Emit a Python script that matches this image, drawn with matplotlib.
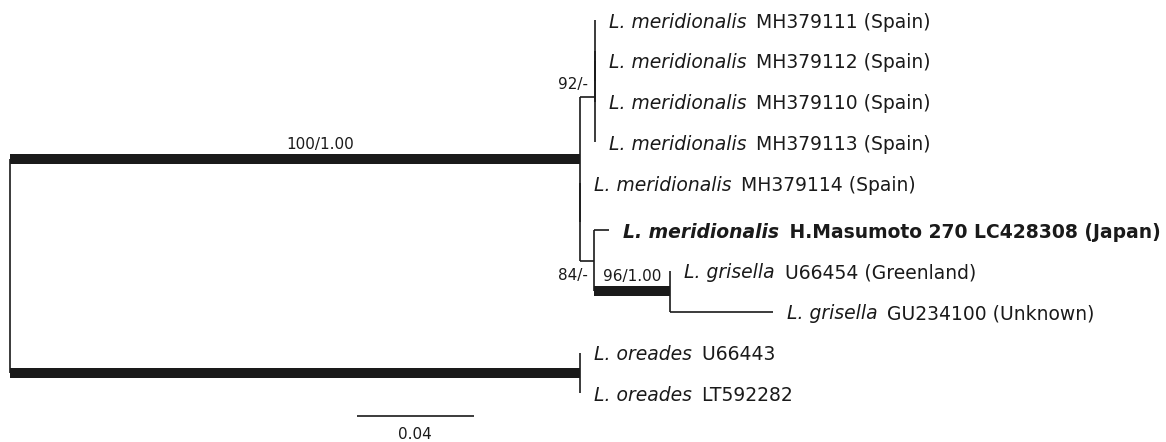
import matplotlib.pyplot as plt

# ============================================================================
# DADOS DA ÁRVORE (folhas de cima para baixo)
# ============================================================================
leaf_species = ['L. meridionalis', 'L. meridionalis', 'L. meridionalis', 'L. meridionalis',
                'L. meridionalis', 'L. meridionalis', 'L. grisella', 'L. grisella',
                'L. oreades', 'L. oreades']
leaf_rest = ['MH379111 (Spain)', 'MH379112 (Spain)', 'MH379110 (Spain)', 'MH379113 (Spain)',
             'MH379114 (Spain)', 'H.Masumoto 270 LC428308 (Japan)', 'U66454 (Greenland)',
             'GU234100 (Unknown)', 'U66443', 'LT592282']
leaf_parent = ['c92b', 'c92c', 'c92c', 'c92', 'cX', 'c84', 'c96', 'c96', 'cOre', 'cOre']
leaf_length = [0, 0, 0, 0, 0, 0.0051, 0, 0.035, 0, 0]

# nós internos (pais antes dos filhos)
node_names = ['root', 'cA', 'c92', 'c92b', 'c92c', 'cX', 'c84', 'c96', 'cOre']
node_parent = [None, 'root', 'cA', 'c92', 'c92b', 'cA', 'cX', 'c84', 'root']
node_length = [0, 0.1954, 0.0051, 0, 0, 0, 0.0048, 0.0262, 0.1954]
node_support = ['', '100/1.00', '92/-', '', '', '', '84/-', '96/1.00', '']

scale_value = 0.04

# ============================================================================
# ESTILO / LAYOUT
# ============================================================================
px_per_unit = 2917.0
row_px = 40.8
top_px = 20.0
W, H = 1166, 442
thick_nodes = ['cA', 'cOre', 'c96']
bold_leaves = [5]
extra_gap_from = 5      # linha em negrito um pouco mais alta
extra_gap = 0.15
support_place = {'cA': ('above', 0.544), 'c92': ('above_end', None),
                 'c84': ('below_end', None), 'c96': ('above', 0.5)}
cor = '#1a1a1a'
lw_fino = 1.2
lw_grosso = 7.2
fs_folha = 13.5

# ============================================================================
# POSIÇÕES
# ============================================================================
xpos = {}
for n, p, L in zip(node_names, node_parent, node_length):
    xpos[n] = 0.0 if p is None else xpos[p] + L

leaf_x = [xpos[p] + L for p, L in zip(leaf_parent, leaf_length)]
leaf_y = [i + (extra_gap if i >= extra_gap_from else 0) for i in range(len(leaf_species))]

ypos = {}
child_span = {}


def calc_y(n):
    ys = [leaf_y[i] for i, p in enumerate(leaf_parent) if p == n]
    ys += [calc_y(c) for c, p in zip(node_names, node_parent) if p == n]
    child_span[n] = (min(ys), max(ys))
    ypos[n] = (min(ys) + max(ys)) / 2
    return ypos[n]


calc_y('root')

# ============================================================================
# DESENHO
# ============================================================================
fig = plt.figure(figsize=(W / 100, H / 100), dpi=100)
ax = fig.add_axes([0, 0, 1, 1])
ax.set_xlim(-10 / px_per_unit, (W - 10) / px_per_unit)
ax.set_ylim((H - top_px) / row_px, -top_px / row_px)
ax.axis('off')

# linhas verticais dos nós
for n in node_names:
    y0, y1 = child_span[n]
    ax.plot([xpos[n], xpos[n]], [y0, y1], color=cor, lw=lw_fino, solid_capstyle='butt')

# ramos horizontais dos nós internos
for n, p in zip(node_names, node_parent):
    if p is None:
        continue
    lw = lw_grosso if n in thick_nodes else lw_fino
    ax.plot([xpos[p], xpos[n]], [ypos[n], ypos[n]], color=cor, lw=lw, solid_capstyle='butt')

# ramos das folhas + rótulos
for i in range(len(leaf_species)):
    p = leaf_parent[i]
    ax.plot([xpos[p], leaf_x[i]], [leaf_y[i], leaf_y[i]], color=cor, lw=lw_fino, solid_capstyle='butt')
    peso = 'bold' if i in bold_leaves else 'normal'
    t1 = ax.annotate(leaf_species[i], xy=(leaf_x[i], leaf_y[i]), xytext=(14, 0),
                     textcoords='offset pixels', ha='left', va='center_baseline',
                     fontsize=fs_folha, style='italic', weight=peso, color=cor)
    ax.annotate(' ' + leaf_rest[i], xy=(1, 0), xycoords=t1, xytext=(4, 0),
                textcoords='offset pixels', ha='left', va='bottom',
                fontsize=fs_folha, weight=peso, color=cor)

# valores de suporte
for n, p, s in zip(node_names, node_parent, node_support):
    if not s:
        continue
    modo, frac = support_place[n]
    if modo == 'above':
        xm = xpos[p] + frac * (xpos[n] - xpos[p])
        ax.annotate(s, xy=(xm, ypos[n]), xytext=(0, 10), textcoords='offset pixels',
                    ha='center', va='baseline', fontsize=11, color=cor)
    elif modo == 'above_end':
        ax.annotate(s, xy=(xpos[n], ypos[n]), xytext=(-7, 7), textcoords='offset pixels',
                    ha='right', va='baseline', fontsize=11, color=cor)
    else:
        ax.annotate(s, xy=(xpos[n], ypos[n]), xytext=(-6, -19), textcoords='offset pixels',
                    ha='right', va='baseline', fontsize=11, color=cor)

# barra de escala
sx = 0.1189
sy = leaf_y[-1] + 0.55
ax.plot([sx, sx + scale_value], [sy, sy], color=cor, lw=lw_fino, solid_capstyle='butt')
ax.annotate(f'{scale_value:.2f}', xy=(sx + scale_value / 2, sy), xytext=(0, -11),
            textcoords='offset pixels', ha='center', va='top', fontsize=11, color=cor)

fig.savefig('out.png', dpi=100, facecolor='white')
